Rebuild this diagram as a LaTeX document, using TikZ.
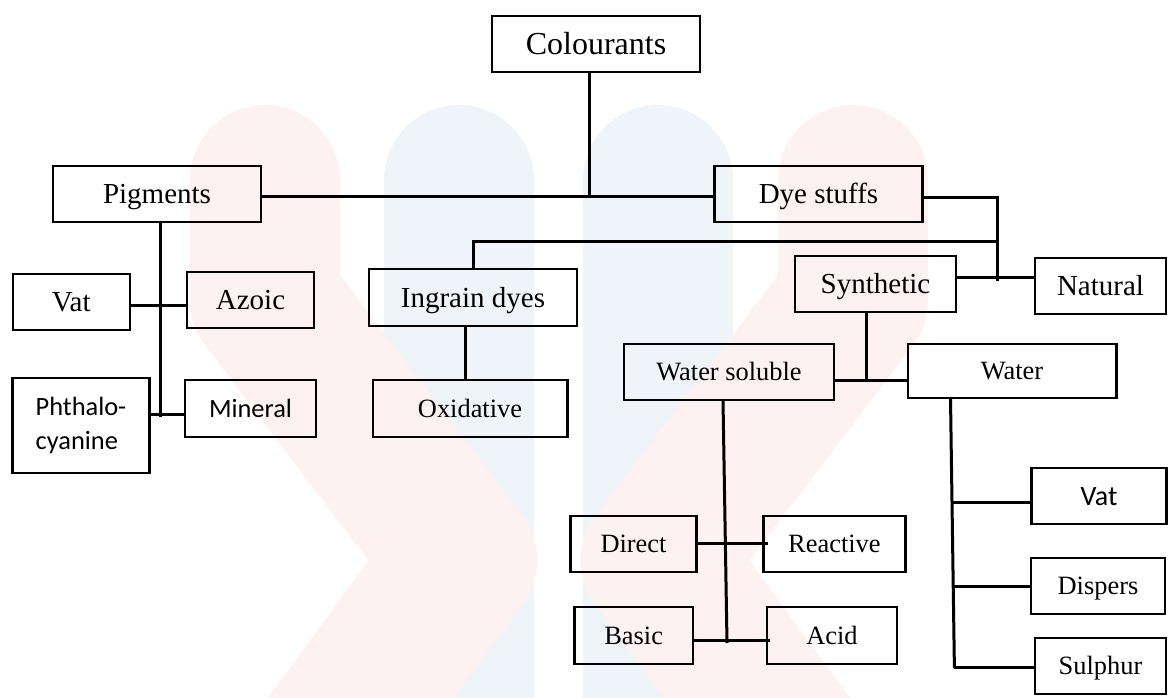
\documentclass[tikz,border=0pt]{standalone}
\usepackage{fontspec}
\setmainfont{Liberation Serif}
\newfontfamily\calfont{Carlito}
\definecolor{wmpink}{RGB}{254,241,241}
\definecolor{wmblue}{RGB}{239,244,248}
\begin{document}
\begin{tikzpicture}[x=0.5pt,y=-0.5pt,
  bx/.style={draw, line width=1.25pt, inner sep=0pt, outer sep=0pt, rectangle},
  fA/.style={font=\fontsize{14.5}{17}\selectfont, text height=9.6pt, text depth=0pt},
  fB/.style={font=\fontsize{13.2}{16}\selectfont, text height=8.7pt, text depth=0pt},
  fC/.style={font=\fontsize{16}{19}\selectfont, text height=10.6pt, text depth=0pt},
  fK/.style={font=\calfont\fontsize{14}{17}\selectfont, text height=9pt, text depth=0pt},
  fL/.style={font=\calfont\fontsize{13.2}{17}\selectfont, text height=8.5pt, text depth=0pt},
  fLL/.style={font=\calfont\fontsize{13.2}{17}\selectfont},
  ln/.style={line width=1.5pt},
  wm/.style={line width=75pt, line cap=round, line join=round}]
\useasboundingbox (0,0) rectangle (1168,697);
% watermark
\begin{scope}
\clip (0,0) rectangle (1168,697);
\draw[wm, wmblue] (459,180) -- (459,800);
\draw[wm, wmblue] (658,180) -- (658,800);
\draw[wm, wmpink] (265,180) -- (265,300) -- (462,560) -- (330,740) -- (300,780);
\draw[wm, wmpink] (853,180) -- (853,300) -- (656,560) -- (788,740) -- (818,780);
\end{scope}
% nodes
\node[bx,fC,minimum width=104pt,minimum height=28pt] (col) at (596,44) {Colourants};
\node[bx,fA,minimum width=104pt,minimum height=28pt] (pig) at (157,194) {Pigments};
\node[bx,fA,minimum width=104pt,minimum height=28pt] (dye) at (818.5,194) {Dye stuffs};
\node[bx,fA,minimum width=58.5pt,minimum height=28pt] (vatl) at (71.3,302) {Vat};
\node[bx,fA,minimum width=63.5pt,minimum height=28pt] (azo) at (250.5,300) {Azoic};
\node[bx,fLL,align=left,minimum width=68.5pt,minimum height=47.5pt] (phth) at (81,425.5) {Phthalo-\\cyanine};
\node[bx,fL,minimum width=65.5pt,minimum height=28.5pt] (min) at (250.5,408.5) {Mineral};
\node[bx,fA,minimum width=104pt,minimum height=28.5pt] (ing) at (473,297.5) {Ingrain dyes};
\node[bx,fB,minimum width=97.25pt,minimum height=28.5pt] (oxi) at (470,408.5) {Oxidative};
\node[bx,fA,minimum width=80.5pt,minimum height=28pt] (syn) at (875.5,284) {Synthetic};
\node[bx,fA,minimum width=65.5pt,minimum height=28pt] (nat) at (1100.5,286) {Natural};
\node[bx,fB,minimum width=105pt,minimum height=28pt] (ws) at (729,372) {Water soluble};
\node[bx,fB,minimum width=104.25pt,minimum height=27pt] (wat) at (1012,371) {Water};
\node[bx,fB,minimum width=63pt,minimum height=28pt] (dir) at (633.5,544) {Direct};
\node[bx,fB,minimum width=71pt,minimum height=28pt] (rea) at (834.4,544) {Reactive};
\node[bx,fB,minimum width=59.25pt,minimum height=28.5pt] (bas) at (633.7,635.5) {Basic};
\node[bx,fB,minimum width=65pt,minimum height=28.5pt] (aci) at (832,635.5) {Acid};
\node[bx,fK,minimum width=67.5pt,minimum height=28pt] (vatr) at (1099,496) {Vat};
\node[bx,fB,minimum width=67pt,minimum height=28pt] (dis) at (1098,586) {Dispers};
\node[bx,fB,minimum width=65.5pt,minimum height=28pt] (sul) at (1100.5,666) {Sulphur};
% helper coordinates
\coordinate (c1) at (589,196);
\coordinate (d1) at (997,197.5);
\coordinate (d2) at (997,281);
\coordinate (d3) at (997,241.5);
\coordinate (y277) at (0,277.3);
\coordinate (g1) at (465.7,0);
\coordinate (s1) at (866.5,380);
\coordinate (w1) at (723,0);
\coordinate (w2) at (727,643);
\coordinate (yd) at (0,543.7);
\coordinate (yb) at (0,640);
\coordinate (v1) at (950.5,0);
\coordinate (v2) at (954.4,668);
\coordinate (b1) at (952,502);
\coordinate (b2) at (953.2,586);
\coordinate (b3) at (954.4,667.7);
\coordinate (p1) at (160.7,417.3);
\coordinate (yv) at (0,305);
\coordinate (ym) at (0,414);
% connectors
\draw[ln] (col.south -| c1) -- (c1);
\draw[ln] (pig.east |- c1) -- (dye.west |- c1);
\draw[ln] (dye.east |- d1) -- (d1) -- (d2);
\draw[ln] (d3) -- (ing.north |- d3) -- (ing.north);
\draw[ln] (syn.east |- y277) -- (nat.west |- y277);
\draw[ln] (ing.south -| g1) -- (oxi.north -| g1);
\draw[ln] (syn.south -| s1) -- (s1);
\draw[ln] (ws.east |- s1) -- (wat.west |- s1);
\draw[ln] (ws.south -| w1) -- (w2);
\draw[ln] (dir.east |- yd) -- ([xshift=2.5pt]rea.west |- yd);
\draw[ln] (bas.east |- yb) -- ([xshift=1.7pt]aci.west |- yb);
\draw[ln] (wat.south -| v1) -- (v2);
\draw[ln] (b1) -- (vatr.west |- b1);
\draw[ln] (b2) -- (dis.west |- b2);
\draw[ln] (b3) -- (sul.west |- b3);
\draw[ln] (pig.south -| p1) -- (p1);
\draw[ln] (vatl.east |- yv) -- (azo.west |- yv);
\draw[ln] (phth.east |- ym) -- (min.west |- ym);
\end{tikzpicture}
\end{document}
